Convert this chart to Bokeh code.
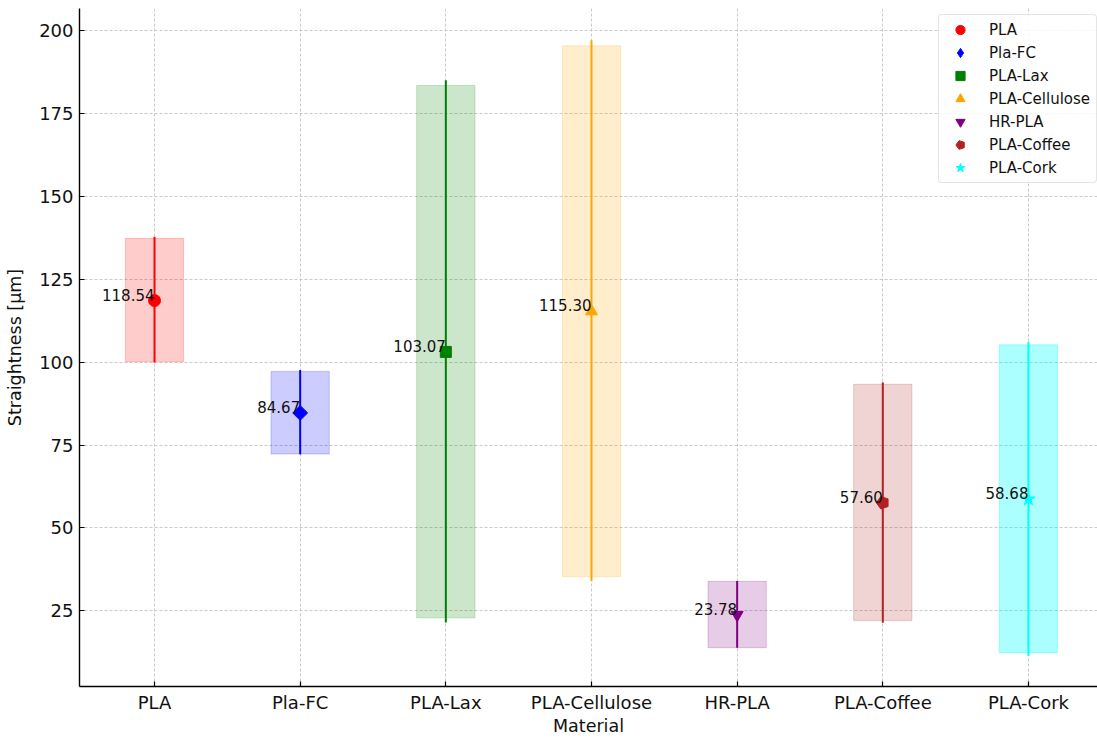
import math

from bokeh.core.properties import value
from bokeh.embed import file_html
from bokeh.models import (ColumnDataSource, FixedTicker, Legend, LegendItem,
                          Range1d)
from bokeh.plotting import figure
from bokeh.resources import INLINE

# Straightness per material: mean, shaded band and whisker extents
materials = ["PLA", "Pla-FC", "PLA-Lax", "PLA-Cellulose", "HR-PLA", "PLA-Coffee", "PLA-Cork"]
means = [118.54, 84.67, 103.07, 115.30, 23.78, 57.60, 58.68]
band_low = [100.1, 72.3, 22.9, 35.3, 13.9, 22.1, 12.4]
band_high = [137.3, 97.2, 183.4, 195.4, 33.9, 93.3, 105.2]
whisker_low = [99.9, 72.2, 21.5, 34.0, 13.9, 21.4, 11.4]
whisker_high = [137.8, 97.6, 185.0, 197.0, 34.0, 93.9, 106.1]
y_ticks = [25, 50, 75, 100, 125, 150, 175, 200]

colors = ["#ff0000", "#0000ff", "#008000", "#ffa500", "#800080", "#b22222", "#00ffff"]
markers = ["circle", "diamond", "square", "triangle", "inverted_triangle", "pentagon", "star"]
band_alpha = [0.2, 0.2, 0.2, 0.2, 0.2, 0.2, 0.33]

FONT = "DejaVu Sans"

p = figure(width=1097, height=738,
           x_range=Range1d(-0.515, 6.474), y_range=Range1d(2.2, 206.6),
           min_border_left=79, min_border_right=0, min_border_top=8, min_border_bottom=49,
           output_backend="svg", toolbar_location=None)
p.outline_line_color = None
p.background_fill_color = "white"
p.border_fill_color = "white"

# grid
for g in (p.xgrid, p.ygrid):
    g.grid_line_color = "#c4c4c4"
    g.grid_line_dash = "3 2"
    g.grid_line_width = 0.9
p.xgrid.ticker = FixedTicker(ticks=list(range(len(materials))))
p.ygrid.ticker = FixedTicker(ticks=y_ticks)

# axes
p.xaxis.ticker = FixedTicker(ticks=list(range(len(materials))))
p.xaxis.major_label_overrides = {i: m for i, m in enumerate(materials)}
p.yaxis.ticker = FixedTicker(ticks=y_ticks)
for ax in (p.xaxis, p.yaxis):
    ax.axis_line_color = "black"
    ax.axis_line_width = 1.4
    ax.major_tick_in = 5
    ax.major_tick_out = 0
    ax.major_tick_line_color = "black"
    ax.major_tick_line_width = 1.2
    ax.minor_tick_line_color = None
    ax.major_label_text_font = FONT
    ax.major_label_text_font_size = "18px"
    ax.major_label_text_color = "#111111"
    ax.axis_label_text_font = FONT
    ax.axis_label_text_font_size = "17.5px"
    ax.axis_label_text_font_style = "normal"
    ax.axis_label_text_color = "#111111"
p.xaxis.axis_label = "Material"
p.yaxis.axis_label = "Straightness [µm]"
p.xaxis.major_label_standoff = 5
p.xaxis.axis_label_standoff = 0
p.yaxis.major_label_standoff = 6
p.yaxis.axis_label_standoff = 11

items = []
for i, (m, c, mk) in enumerate(zip(materials, colors, markers)):
    src = ColumnDataSource(dict(
        x=[i], mean=[means[i]],
        blo=[band_low[i]], bhi=[band_high[i]],
        wlo=[whisker_low[i]], whi=[whisker_high[i]],
    ))
    p.vbar(x="x", width=0.4, bottom="blo", top="bhi", source=src,
           fill_color=c, fill_alpha=band_alpha[i], line_color=c, line_alpha=band_alpha[i], line_width=1)
    p.segment(x0="x", y0="wlo", x1="x", y1="whi", source=src,
              line_color=c, line_width=2)

    legend_renderers = None
    if mk == "pentagon" and hasattr(p, "ngon"):
        mr = p.ngon(x="x", y="mean", radius=6.5, radius_units="screen", n=5, angle=math.pi / 2,
                    source=src, fill_color=c, line_color=c)
    elif mk == "pentagon":
        mr = p.scatter(x="x", y="mean", marker="hex", size=12, source=src, fill_color=c, line_color=c)
    elif mk == "diamond":
        mr = p.scatter(x="x", y="mean", marker="square", angle=math.pi / 4, size=10.5,
                       source=src, fill_color=c, line_color=c)
        # rotated squares are not rotated in legend swatches, so use a hidden diamond there
        swatch = p.scatter(x="x", y="mean", marker="diamond", size=14, source=src,
                           fill_color=c, line_color=c, visible=False)
        legend_renderers = [swatch]
    elif mk == "star":
        mr = p.scatter(x="x", y="mean", marker="star", size=14, source=src, fill_color=c, line_color=c)
    elif mk == "circle":
        mr = p.scatter(x="x", y="mean", marker="circle", size=12, source=src, fill_color=c, line_color=c)
    elif mk == "square":
        mr = p.scatter(x="x", y="mean", marker="square", size=11, source=src, fill_color=c, line_color=c)
    else:
        mr = p.scatter(x="x", y="mean", marker=mk, size=12, source=src, fill_color=c, line_color=c)
    items.append(LegendItem(label=m, renderers=legend_renderers or [mr]))

# value labels next to each mean marker
lab = ColumnDataSource(dict(x=list(range(len(materials))), y=means,
                            t=["%.2f" % v for v in means]))
p.text(x="x", y="y", text="t", source=lab, text_align="right", text_baseline="bottom",
       text_font=value(FONT), text_font_size="15px", text_color="#111111")

legend = Legend(items=items, location=(859, 503))
legend.label_text_font = FONT
legend.label_text_font_size = "15px"
legend.label_text_color = "#111111"
legend.glyph_width = 36
legend.glyph_height = 23
legend.label_height = 23
legend.label_width = 104
legend.label_standoff = 11
legend.spacing = 0
legend.padding = 3
legend.margin = 0
legend.border_line_color = "#cccccc"
legend.border_line_width = 1
legend.border_radius = 4
legend.background_fill_color = "white"
legend.background_fill_alpha = 0.85
legend.inactive_fill_alpha = 0
p.add_layout(legend)

open("out.html", "w").write(file_html(p, INLINE))
